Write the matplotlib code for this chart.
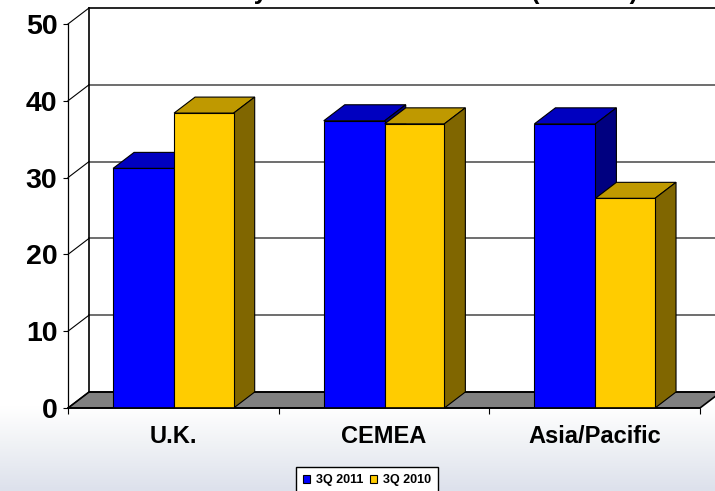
import numpy as np
import matplotlib
matplotlib.use('Agg')
import matplotlib.pyplot as plt
from matplotlib.patches import Polygon
from matplotlib.colors import LinearSegmentedColormap

categories = ['U.K.', 'CEMEA', 'Asia/Pacific']
q3_2011 = [31.2, 37.4, 37.0]
q3_2010 = [38.4, 37.0, 27.3]
series_names = ['3Q 2011', '3Q 2010']
yticks = [0, 10, 20, 30, 40, 50]
title = 'Monthly Transactions Volume (Billions)'

W, H = 715, 491
plt.rcParams['font.family'] = ['Liberation Sans', 'DejaVu Sans']
plt.rcParams['font.weight'] = 'bold'

fig = plt.figure(figsize=(W / 100, H / 100), dpi=100)

# background fades from white to pale blue at the bottom
bg = fig.add_axes([0, 0, 1, 1], zorder=0)
cmap = LinearSegmentedColormap.from_list('bg', [(0, '#ffffff'), (0.83, '#ffffff'), (0.90, '#f1f3f6'), (1, '#dde1ec')])
bg.imshow(np.linspace(0, 1, 256).reshape(-1, 1), cmap=cmap, aspect='auto', extent=[0, 1, 0, 1], origin='upper')
bg.axis('off')

# front plane of the box
left, right, bottom, top = 68, 700, 408, 24
ax = fig.add_axes([left / W, 1 - bottom / H, (right - left) / W, (bottom - top) / H], zorder=1)
ax.patch.set_visible(False)
ax.set_xlim(0, 3)
ax.set_ylim(0, 50)

# depth of the oblique projection, in data units
dx = 21 * 3 / (right - left)
dy = 16 * 50 / (bottom - top)

ax.add_patch(Polygon([(0, 0), (dx, dy), (3 + dx, dy), (3, 0)], closed=True, facecolor='#808080',
                     edgecolor='black', linewidth=1.2, clip_on=False, zorder=1))
for v in yticks:
    gc = 'black' if v in (0, 50) else '#555555'
    ax.plot([dx, 3 + dx], [v + dy, v + dy], color=gc, lw=1.2, clip_on=False, zorder=1)
    ax.plot([0, dx], [v, v + dy], color='black', lw=0.8, clip_on=False, zorder=1)
ax.plot([dx, dx], [dy, 50 + dy], color='black', lw=1.2, clip_on=False, zorder=1)

x = np.arange(len(categories))
widths = [0.2895, 0.283]
starts = [x + 0.214, x + 0.5035]
values = [q3_2011, q3_2010]
front = ['#0000ff', '#ffcc00']
roof = ['#0000c0', '#bf9900']
side = ['#000080', '#806600']

for s in range(2):
    z = 2 + s
    for x0, v in zip(starts[s], values[s]):
        x1 = x0 + widths[s]
        ax.add_patch(Polygon([(x0, v), (x0 + dx, v + dy), (x1 + dx, v + dy), (x1, v)], closed=True,
                             facecolor=roof[s], edgecolor='black', linewidth=0.8, clip_on=False, zorder=z))
        ax.add_patch(Polygon([(x1, 0), (x1 + dx, dy), (x1 + dx, v + dy), (x1, v)], closed=True,
                             facecolor=side[s], edgecolor='black', linewidth=0.8, clip_on=False, zorder=z))
    ax.bar(starts[s], values[s], widths[s], align='edge', color=front[s], edgecolor='black', linewidth=0.8,
           label=series_names[s], zorder=z + 0.5)

for name in ['top', 'right']:
    ax.spines[name].set_visible(False)
ax.spines['left'].set_linewidth(0.9)
ax.spines['bottom'].set_linewidth(1.2)
ax.spines['bottom'].set_zorder(6)

ax.set_yticks(yticks)
ax.tick_params(axis='y', length=3.6, width=0.8, pad=4, labelsize=20.5)
ax.set_xticks([0, 1, 2, 3])
ax.set_xticklabels([])
ax.tick_params(axis='x', length=4.3, width=0.8)
ax.set_xticks(x + 0.5, minor=True)
ax.set_xticklabels(categories, minor=True, fontsize=17)
ax.tick_params(axis='x', which='minor', length=0, pad=12)

fig.text(405 / W, 1 + 1 / H, title, ha='center', va='baseline', fontsize=18, zorder=3)

ax.legend(loc='lower left', bbox_to_anchor=(296 / W, -2 / H), bbox_transform=fig.transFigure, ncol=2,
          fontsize=9, frameon=True, fancybox=False, edgecolor='black', facecolor='white', framealpha=1,
          handlelength=0.6, handleheight=0.6, handletextpad=0.45, columnspacing=0.5, borderpad=0.55,
          borderaxespad=0)

fig.savefig('out.png', dpi=100)
